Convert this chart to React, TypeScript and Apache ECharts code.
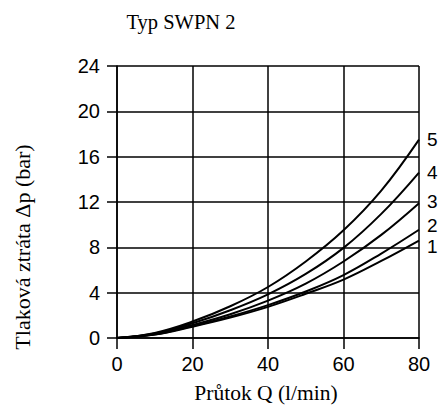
import React, { useEffect, useRef } from "react";
import * as echarts from "echarts";

const flow = [0, 10, 20, 30, 40, 50, 60, 70, 80];
const curve1 = [0, 0.3, 1.0, 1.8, 2.75, 3.9, 5.15, 6.8, 8.6];
const curve2 = [0, 0.3, 1.05, 1.9, 2.9, 4.1, 5.55, 7.45, 9.55];
const curve3 = [0, 0.35, 1.15, 2.1, 3.3, 4.8, 6.75, 9.1, 11.9];
const curve4 = [0, 0.4, 1.3, 2.45, 3.85, 5.65, 7.95, 10.95, 14.6];
const curve5 = [0, 0.45, 1.45, 2.8, 4.5, 6.75, 9.5, 13.0, 17.5];
const seriesNames = ["1", "2", "3", "4", "5"];
const labelOffsets = [6, -4, -2, 0, 0];

const title = "Typ SWPN 2";
const xName = "Průtok Q (l/min)";
const yName = "Tlaková ztráta Δp (bar)";

export default function App() {
  const ref = useRef<HTMLDivElement>(null);
  useEffect(() => {
    const chart = echarts.init(ref.current!, null, { renderer: "svg" });
    const all = [curve1, curve2, curve3, curve4, curve5];
    const serif = "'Liberation Serif', 'Times New Roman', serif";
    const sans = "'Liberation Sans', Arial, sans-serif";
    chart.setOption({
      animation: false,
      backgroundColor: "#fff",
      grid: { left: 117, right: 22, top: 66, bottom: 67 },
      xAxis: {
        type: "value",
        min: 0,
        max: 80,
        interval: 20,
        axisLine: { show: true, lineStyle: { color: "#000", width: 1.5 } },
        axisTick: { show: true, length: 11, lineStyle: { color: "#000", width: 1.5 } },
        axisLabel: { color: "#000", fontFamily: sans, fontSize: 20, margin: 16 },
        splitLine: { show: true, lineStyle: { color: "#000", width: 1.5 } },
      },
      yAxis: {
        type: "value",
        min: 0,
        max: 24,
        interval: 4,
        axisLine: { show: true, lineStyle: { color: "#000", width: 1.5 } },
        axisTick: { show: true, length: 10, lineStyle: { color: "#000", width: 1.5 } },
        axisLabel: { color: "#000", fontFamily: sans, fontSize: 20, margin: 17 },
        splitLine: { show: true, lineStyle: { color: "#000", width: 1.5 } },
      },
      graphic: [
        {
          type: "text",
          x: 181,
          y: 22,
          style: {
            text: title,
            font: `20.5px ${serif}`,
            fill: "#000",
            align: "center",
            verticalAlign: "middle",
          },
        },
        {
          type: "text",
          x: 266,
          y: 393,
          style: {
            text: xName,
            font: `21.5px ${serif}`,
            fill: "#000",
            align: "center",
            verticalAlign: "middle",
          },
        },
        {
          type: "text",
          x: 22,
          y: 247,
          rotation: Math.PI / 2,
          style: {
            text: yName,
            font: `22px ${serif}`,
            fill: "#000",
            align: "center",
            verticalAlign: "middle",
          },
        },
      ],
      series: all.map((vals, i) => ({
        type: "line",
        name: seriesNames[i],
        data: flow.map((x, j) => [x, vals[j]]),
        smooth: 0.4,
        showSymbol: false,
        symbol: "none",
        lineStyle: { color: "#000", width: 2 },
        endLabel: {
          show: true,
          formatter: seriesNames[i],
          color: "#000",
          fontFamily: sans,
          fontSize: 19,
          distance: 8,
          offset: [0, labelOffsets[i]],
        },
      })),
    });
    return () => chart.dispose();
  }, []);
  return <div ref={ref} style={{ width: 441, height: 405, position: "absolute", left: 0, top: 0 }} />;
}
